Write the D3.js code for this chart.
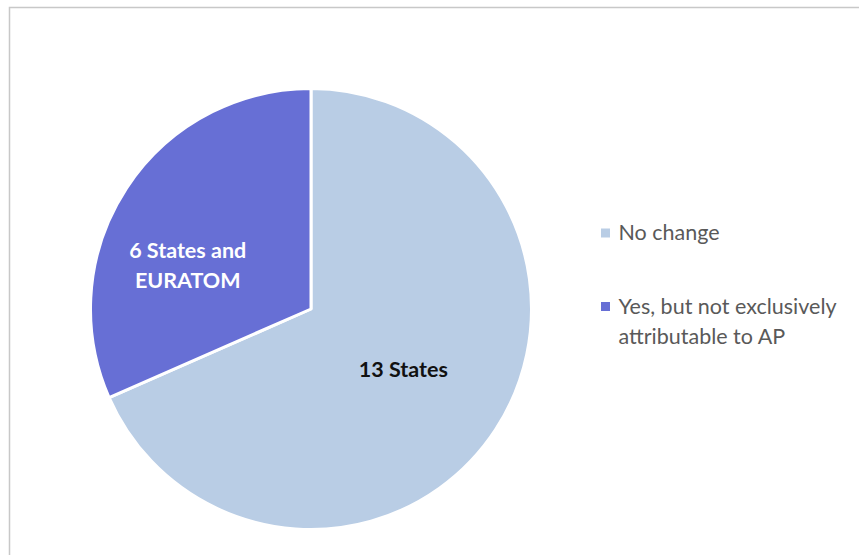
<!DOCTYPE html>
<html>
<head>
<meta charset="utf-8">
<script src="https://cdn.jsdelivr.net/npm/d3@7"></script>
<style>
  html, body { margin: 0; padding: 0; background: #fff; }
  svg { display: block; }
</style>
</head>
<body>
<svg id="chart" width="859" height="555"></svg>
<script>
// Slice data
const categories = ["No change", "Yes, but not exclusively attributable to AP"];
const values = [13, 6];
const sliceLabels = [["13 States"], ["6 States and", "EURATOM"]];
const legendLines = [["No change"], ["Yes, but not exclusively", "attributable to AP"]];
const colors = ["#b9cde5", "#676fd5"];
const labelColors = ["#111111", "#ffffff"];

const svg = d3.select("#chart");
const W = 859, H = 555;
const font = "Lato, 'Open Sans', sans-serif";

// Chart area frame
svg.append("rect")
  .attr("x", 9.5).attr("y", 7.5)
  .attr("width", W).attr("height", H)
  .attr("fill", "#fff")
  .attr("stroke", "#c8c8c8")
  .attr("stroke-width", 1.5);

const cx = 311, cy = 309, r = 220.5;

const pie = d3.pie().sort(null).value(d => d)(values);
const arc = d3.arc().innerRadius(0).outerRadius(r);

const g = svg.append("g").attr("transform", `translate(${cx},${cy})`);

g.selectAll("path.slice")
  .data(pie)
  .join("path")
  .attr("class", "slice")
  .attr("d", arc)
  .attr("fill", (d, i) => colors[i])
  .attr("stroke", "#fff")
  .attr("stroke-width", 3)
  .attr("stroke-linejoin", "round");

// Slice labels (best-fit nudges from the half-radius centroid)
const labelArc = d3.arc().innerRadius(r * 0.5).outerRadius(r * 0.5);
const labelOffsets = [[0, 0], [-31, 17]];
pie.forEach((d, i) => {
  const [x, y] = labelArc.centroid(d);
  const lines = sliceLabels[i];
  const lh = 30;
  const t = g.append("text")
    .attr("text-anchor", "middle")
    .attr("font-family", font)
    .attr("font-weight", "bold")
    .attr("font-size", 21.5)
    .attr("fill", labelColors[i]);
  lines.forEach((ln, j) => {
    t.append("tspan")
      .attr("x", x + labelOffsets[i][0])
      .attr("y", y + labelOffsets[i][1] + (j - (lines.length - 1) / 2) * lh + 7.7)
      .text(ln);
  });
});

// Legend
const legendX = 601;
const legendY = [233, 306.5];
const lg = svg.append("g");
categories.forEach((c, i) => {
  lg.append("rect")
    .attr("x", legendX).attr("y", legendY[i] - 4.5)
    .attr("width", 9).attr("height", 9)
    .attr("fill", colors[i]);
  const t = lg.append("text")
    .attr("font-family", font)
    .attr("font-size", 21.5)
    .attr("fill", "#595959");
  legendLines[i].forEach((ln, j) => {
    t.append("tspan")
      .attr("x", legendX + 17.5)
      .attr("y", legendY[i] + 7 + j * 30.5)
      .text(ln);
  });
});
</script>
</body>
</html>
